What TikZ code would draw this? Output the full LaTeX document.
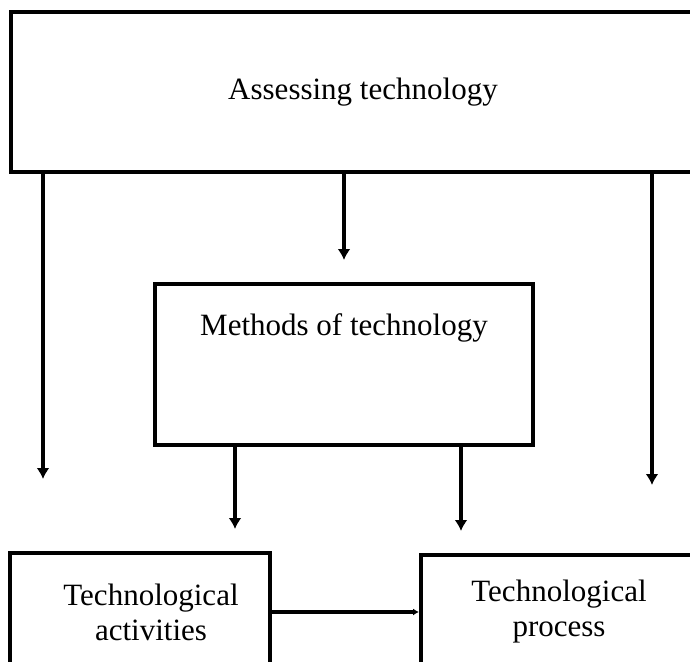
\documentclass[tikz,border=0pt]{standalone}
\usepackage{fontspec}
\setmainfont{Liberation Serif}
\usetikzlibrary{arrows.meta}
\tikzstyle{box}=[draw=black,line width=4pt,align=center,inner sep=0pt,font=\fontsize{31}{35}\selectfont]
\tikzstyle{arr}=[line width=4.5pt,-{Latex[length=11pt,width=13pt]}]
\tikzstyle{flat}=[line width=4.5pt,-{Latex[length=6pt,width=7pt]}]

\begin{document}
\begin{tikzpicture}[x=1pt,y=-1pt]
\useasboundingbox (0,0) rectangle (690,661);
\clip (0,0) rectangle (690,661);
\node[box,minimum width=704pt,minimum height=160pt] (assess) at (363,92) {Assessing technology};
\node[box,minimum width=378pt,minimum height=161pt,text height=21pt,text depth=80pt] (meth) at (344,364.5) {Methods of technology};
\node[box,minimum width=260pt,minimum height=118pt] (act) at (140,612) {\hspace*{22pt}Technological\\\hspace*{22pt}activities};
\node[box,minimum width=276pt,minimum height=114pt] (proc) at (559,612) {Technological\\process};
\coordinate (ltip) at (43,479);
\coordinate (rtip) at (652,485);
% arrows out of the top box
\draw[arr] (ltip |- assess.south) -- (ltip);
\draw[arr] (rtip |- assess.south) -- (rtip);
\draw[arr,shorten >=22pt] (assess.south -| meth.north) -- (meth.north);
% arrows out of the middle box
\draw[arr,shorten >=22pt] (235,0 |- meth.south) -- (235,0 |- act.north);
\draw[arr,shorten >=22pt] (461,0 |- meth.south) -- (461,0 |- proc.north);
\draw[flat] (act.east) -- (proc.west);
\end{tikzpicture}
\end{document}
